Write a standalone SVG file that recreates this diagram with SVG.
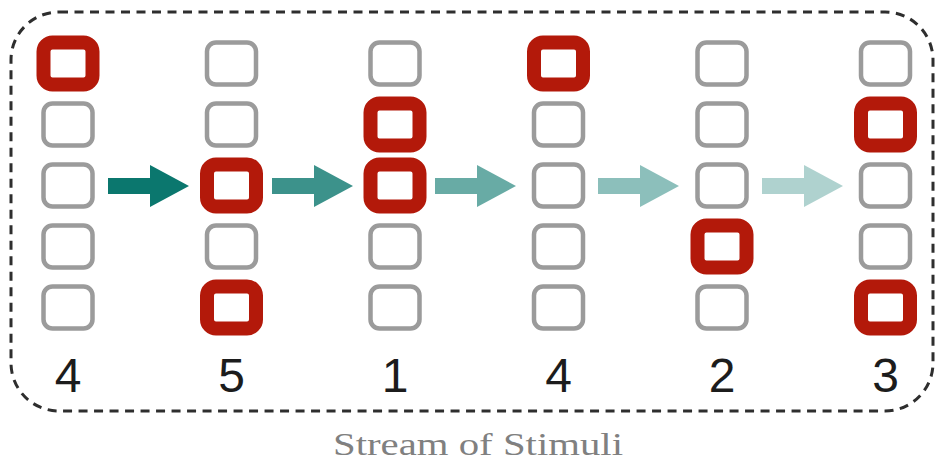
<svg xmlns="http://www.w3.org/2000/svg" width="936" height="463" viewBox="0 0 936 463">
  <style>
    .slot { fill: #ffffff; stroke: #9b9b9b; stroke-width: 4.5; }
    .hit { fill: #ffffff; stroke: #b3190a; stroke-width: 14; }
    .num { font-family: "Liberation Sans", Arial, sans-serif; font-size: 48px; fill: #1c1c1c; text-anchor: middle; }
    .caption { font-family: "Liberation Serif", "Times New Roman", serif; font-size: 32px; fill: #808080; }
    .frame { fill: none; stroke: #2e2e2e; stroke-width: 3; stroke-dasharray: 9 6.5; }
    .arrow { fill: #0b776e; }
  </style>
  <defs>
    <rect id="box" x="-24.5" y="-21" width="49" height="42" rx="9" ry="9"/>
    <path id="arr" d="M0,-8 L42,-8 L42,-21 L81,0 L42,21 L42,8 L0,8 Z"/>
  </defs>

  <!-- dashed enclosure -->
  <rect class="frame" x="11" y="12" width="922" height="399" rx="48" ry="48"/>

  <!-- connectors between frames, fading over time -->
  <g id="connectors">
    <use href="#arr" class="arrow" x="108" y="186"/>
    <use href="#arr" class="arrow" x="272" y="186" opacity="0.8"/>
    <use href="#arr" class="arrow" x="435" y="186" opacity="0.62"/>
    <use href="#arr" class="arrow" x="598" y="186" opacity="0.47"/>
    <use href="#arr" class="arrow" x="762" y="186" opacity="0.33"/>
  </g>

  <!-- frame 1: position 4 -->
  <g id="frame1">
    <use href="#box" class="hit" x="68" y="63.5"/>
    <use href="#box" class="slot" x="68" y="124.5"/>
    <use href="#box" class="slot" x="68" y="185.5"/>
    <use href="#box" class="slot" x="68" y="246.5"/>
    <use href="#box" class="slot" x="68" y="307.5"/>
    <text class="num" x="68" y="392">4</text>
  </g>

  <!-- frame 2: position 5 -->
  <g id="frame2">
    <use href="#box" class="slot" x="231.5" y="63.5"/>
    <use href="#box" class="slot" x="231.5" y="124.5"/>
    <use href="#box" class="hit" x="231.5" y="185.5"/>
    <use href="#box" class="slot" x="231.5" y="246.5"/>
    <use href="#box" class="hit" x="231.5" y="307.5"/>
    <text class="num" x="231.5" y="392">5</text>
  </g>

  <!-- frame 3: position 1 -->
  <g id="frame3">
    <use href="#box" class="slot" x="395" y="63.5"/>
    <use href="#box" class="hit" x="395" y="124.5"/>
    <use href="#box" class="hit" x="395" y="185.5"/>
    <use href="#box" class="slot" x="395" y="246.5"/>
    <use href="#box" class="slot" x="395" y="307.5"/>
    <text class="num" x="395" y="392">1</text>
  </g>

  <!-- frame 4: position 4 -->
  <g id="frame4">
    <use href="#box" class="hit" x="558.5" y="63.5"/>
    <use href="#box" class="slot" x="558.5" y="124.5"/>
    <use href="#box" class="slot" x="558.5" y="185.5"/>
    <use href="#box" class="slot" x="558.5" y="246.5"/>
    <use href="#box" class="slot" x="558.5" y="307.5"/>
    <text class="num" x="558.5" y="392">4</text>
  </g>

  <!-- frame 5: position 2 -->
  <g id="frame5">
    <use href="#box" class="slot" x="722" y="63.5"/>
    <use href="#box" class="slot" x="722" y="124.5"/>
    <use href="#box" class="slot" x="722" y="185.5"/>
    <use href="#box" class="hit" x="722" y="246.5"/>
    <use href="#box" class="slot" x="722" y="307.5"/>
    <text class="num" x="722" y="392">2</text>
  </g>

  <!-- frame 6: position 3 -->
  <g id="frame6">
    <use href="#box" class="slot" x="885.5" y="63.5"/>
    <use href="#box" class="hit" x="885.5" y="124.5"/>
    <use href="#box" class="slot" x="885.5" y="185.5"/>
    <use href="#box" class="slot" x="885.5" y="246.5"/>
    <use href="#box" class="hit" x="885.5" y="307.5"/>
    <text class="num" x="885.5" y="392">3</text>
  </g>

  <text class="caption" x="333" y="455" textLength="290" lengthAdjust="spacingAndGlyphs">Stream of Stimuli</text>
</svg>
